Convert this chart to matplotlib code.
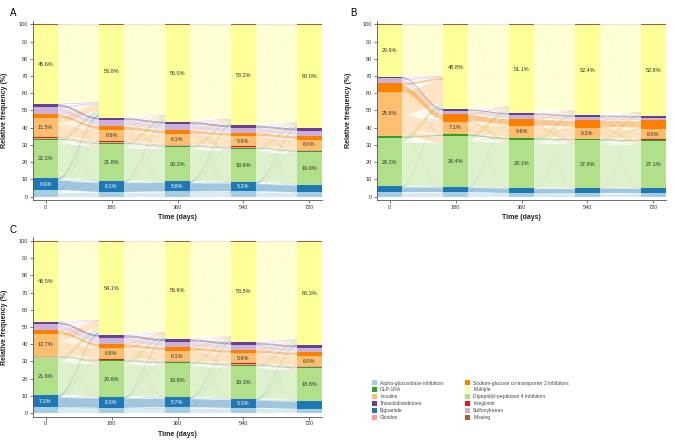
import numpy as np
import matplotlib
matplotlib.use("Agg")
import matplotlib.pyplot as plt
from matplotlib.patches import Patch

plt.rcParams['font.family'] = ['Liberation Sans', 'DejaVu Sans']

# ---------------- data ----------------
categories = ['Alpha-glucosidase inhibitors', 'Biguanide', 'Dipeptidyl-peptidase 4 inhibitors',
              'GLP-1RA', 'Glinides', 'Imeglimin', 'Insulins',
              'Sodium-glucose co-transporter 2 inhibitors', 'Sulfonylureas',
              'Thiazolidinediones', 'Multiple', 'Missing']
colors = ['#a6cee3', '#1f78b4', '#b2df8a', '#33a02c', '#fb9a99', '#e31a1c', '#fdbf6f',
          '#ff7f00', '#cab2d6', '#6a3d9a', '#ffff99', '#b15928']
times = [0, 180, 360, 540, 720]

# relative frequency (%) per time point, in category order
panel_a = [
    [3.8, 6.9, 22.3, 0.7, 0.6, 0.1, 11.5, 2.0, 4.4, 1.6, 45.6, 0.5],
    [2.7, 6.1, 21.8, 0.5, 0.8, 0.1, 6.6, 2.3, 3.5, 1.4, 53.8, 0.4],
    [3.0, 5.8, 20.2, 0.5, 0.6, 0.1, 6.1, 2.3, 3.4, 1.6, 56.0, 0.4],
    [3.1, 5.2, 19.6, 0.5, 0.6, 0.1, 5.9, 2.0, 2.9, 1.5, 58.2, 0.4],
    [2.5, 4.5, 19.0, 0.5, 0.5, 0.1, 6.0, 2.3, 2.7, 1.5, 60.0, 0.4],
]
panel_b = [
    [2.6, 3.3, 28.2, 0.8, 0.2, 0.1, 25.8, 4.8, 2.9, 1.0, 29.9, 0.4],
    [2.6, 3.1, 29.4, 1.0, 0.2, 0.1, 7.1, 4.4, 1.9, 1.0, 48.8, 0.4],
    [2.1, 2.9, 28.1, 0.9, 0.2, 0.1, 6.6, 4.3, 2.3, 1.0, 51.1, 0.4],
    [2.1, 2.9, 27.6, 0.7, 0.2, 0.1, 6.2, 4.6, 1.7, 1.1, 52.4, 0.4],
    [2.0, 2.9, 27.1, 0.8, 0.3, 0.1, 6.0, 5.0, 1.6, 1.0, 52.8, 0.4],
]
panel_c = [
    [3.3, 7.1, 21.9, 0.5, 0.5, 0.1, 12.7, 2.0, 3.5, 1.5, 46.5, 0.4],
    [3.1, 6.3, 20.6, 0.6, 0.5, 0.1, 6.8, 2.4, 3.4, 1.7, 54.1, 0.4],
    [3.4, 5.7, 19.8, 0.6, 0.5, 0.1, 6.1, 2.2, 3.0, 1.6, 56.6, 0.4],
    [3.0, 5.3, 19.3, 0.6, 0.5, 0.1, 5.9, 2.0, 2.8, 1.6, 58.5, 0.4],
    [2.5, 4.7, 18.8, 0.6, 0.5, 0.1, 6.0, 2.2, 2.6, 1.3, 60.3, 0.4],
]
# share of the smaller marginal that stays in the same class between visits
retention = [0.85, 0.85, 0.88, 0.8, 0.6, 0.5, 0.8, 0.7, 0.75, 0.8, 0.95, 0.5]

legend_order = [0, 3, 6, 9, 1, 4, 7, 10, 2, 5, 8, 11]
label_min = 5.0

# ---------------- helpers ----------------
W = 67.5  # stratum width in days


def transition(p, q):
    p = np.asarray(p, float); q = np.asarray(q, float)
    p = p / p.sum() * 100; q = q / q.sum() * 100
    stay = np.minimum(p, q) * np.asarray(retention)
    o = p - stay; i = q - stay
    return np.outer(o, i) / o.sum() + np.diag(stay)


def smooth(s):
    return s * s * (3 - 2 * s)


def draw_panel(ax, data, letter):
    data = [np.asarray(d, float) for d in data]
    bottoms = [np.concatenate([[0], np.cumsum(d)[:-1]]) for d in data]
    s = np.linspace(0, 1, 60)
    for k in range(len(times) - 1):
        F = transition(data[k], data[k + 1])
        x0 = times[k] + W / 2
        x1 = times[k + 1] - W / 2
        xs = x0 + (x1 - x0) * s
        n = len(categories)
        left_start = bottoms[k].copy()
        right_pos = np.zeros((n, n))
        for b in range(n):
            c = bottoms[k + 1][b]
            for a in range(n):
                right_pos[a, b] = c
                c += F[a, b]
        for a in range(n):
            c = left_start[a]
            for b in range(n):
                v = F[a, b]
                if v < 0.01:
                    continue
                yl0, yl1 = c, c + v
                yr0, yr1 = right_pos[a, b], right_pos[a, b] + v
                lo = yl0 + (yr0 - yl0) * smooth(s)
                hi = yl1 + (yr1 - yl1) * smooth(s)
                ax.fill(np.concatenate([xs, xs[::-1]]), np.concatenate([lo, hi[::-1]]),
                        color=colors[a], alpha=0.42, lw=0, zorder=1)
                c += v
    for k, t in enumerate(times):
        ax.bar([t] * len(categories), data[k], bottom=bottoms[k], width=W,
               color=colors, linewidth=0, zorder=2)
        for j, v in enumerate(data[k]):
            if v >= label_min and categories[j] in ('Biguanide', 'Dipeptidyl-peptidase 4 inhibitors',
                                                     'Insulins', 'Multiple'):
                tc = 'white' if categories[j] == 'Biguanide' else '#333333'
                ax.text(t, bottoms[k][j] + v / 2, f'{v:.1f}%', ha='center', va='center',
                        fontsize=4, color=tc, zorder=3)
    ax.set_xlim(times[0] - W / 2 - 0.5, times[-1] + W / 2 + 0.5)
    ax.set_ylim(-2, 102)
    ax.set_xticks(times)
    ax.set_xticklabels([str(t) for t in times])
    ax.set_yticks(np.arange(0, 101, 10))
    ax.tick_params(labelsize=4, length=2, width=0.5, pad=1.5, colors='#444444',
                   labelcolor='#333333')
    for sp in ('top', 'right'):
        ax.spines[sp].set_visible(False)
    for sp in ('left', 'bottom'):
        ax.spines[sp].set_linewidth(0.6)
        ax.spines[sp].set_color('#555555')
    ax.set_ylabel('Relative frequency (%)', fontsize=5, fontweight='bold', color='#222222')
    ax.set_xlabel('Time (days)', fontsize=5, fontweight='bold', color='#222222')
    ax.yaxis.set_label_coords(-0.085, 0.5)
    ax.xaxis.set_label_coords(0.5, -0.08)


fig = plt.figure(figsize=(6.77, 4.48), dpi=100)
FW, FH = 677, 448
axA = fig.add_axes([33 / FW, 1 - 200 / FH, 289 / FW, 179 / FH])
axB = fig.add_axes([377 / FW, 1 - 200 / FH, 289 / FW, 179 / FH])
axC = fig.add_axes([33 / FW, 1 - 416.5 / FH, 289 / FW, 179 / FH])

draw_panel(axA, panel_a, 'A')
draw_panel(axB, panel_b, 'B')
draw_panel(axC, panel_c, 'C')

fig.text(10 / FW, 1 - 13 / FH, 'A', fontsize=7, ha='left', va='center')
fig.text(350 / FW, 1 - 13 / FH, 'B', fontsize=7, ha='left', va='center')
fig.text(10 / FW, 1 - 230 / FH, 'C', fontsize=7, ha='left', va='center')

handles = [Patch(facecolor=colors[i], edgecolor='none', label=categories[i]) for i in legend_order]
fig.legend(handles=handles, ncol=2, loc='upper left', bbox_to_anchor=(368 / FW, 1 - 377 / FH),
           frameon=False, fontsize=3.6, handlelength=1.1, handleheight=1.1, handletextpad=0.6,
           columnspacing=4.2, labelspacing=0.35, labelcolor='#444444', borderpad=0.2)

fig.savefig('out.png', dpi=100)
